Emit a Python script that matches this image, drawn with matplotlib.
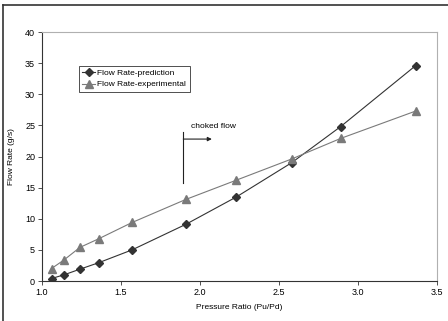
import matplotlib.pyplot as plt
from matplotlib.lines import Line2D

plt.rcParams["font.family"] = ["Liberation Sans", "DejaVu Sans"]

# pressure ratio (Pu/Pd) and flow rate (g/s)
pressure_ratio = [1.06, 1.14, 1.24, 1.36, 1.57, 1.91, 2.23, 2.58, 2.89, 3.365]
flow_prediction = [0.4, 1.0, 1.9, 2.95, 5.0, 9.1, 13.5, 19.0, 24.8, 34.6]
flow_experimental = [2.0, 3.4, 5.4, 6.8, 9.4, 13.1, 16.2, 19.6, 22.9, 27.3]

fig = plt.figure(figsize=(4.48, 3.21), dpi=100)
ax = fig.add_axes([0.0938, 0.1246, 0.8816, 0.7757])

ax.plot(pressure_ratio, flow_prediction, "-D", color="#333333", lw=0.8,
        ms=3.8, label="Flow Rate-prediction")
ax.plot(pressure_ratio, flow_experimental, "-^", color="#7a7a7a", lw=0.8,
        ms=5.5, label="Flow Rate-experimental")

ax.set_xlim(1.0, 3.5)
ax.set_ylim(0, 40)
ax.set_xticks([1.0, 1.5, 2.0, 2.5, 3.0, 3.5])
ax.set_xticklabels(["1.0", "1.5", "2.0", "2.5", "3.0", "3.5"])
ax.set_yticks(range(0, 41, 5))
ax.tick_params(labelsize=6.5, length=3, width=0.6, pad=2, color="#333333")

for side in ["left", "bottom"]:
    ax.spines[side].set_color("#333333")
    ax.spines[side].set_linewidth(0.8)
for side in ["top", "right"]:
    ax.spines[side].set_color("#b0b0b0")
    ax.spines[side].set_linewidth(0.8)

ax.set_xlabel("Pressure Ratio (Pu/Pd)", fontsize=6, labelpad=5)
ax.set_ylabel("Flow Rate (g/s)", fontsize=6, labelpad=7)

leg = ax.legend(loc="upper left", bbox_to_anchor=(0.094, 0.863), fontsize=6,
                frameon=True, fancybox=False, borderaxespad=0, handlelength=1.5,
                handletextpad=0.3, borderpad=0.4, labelspacing=0.4)
leg.get_frame().set_edgecolor("black")
leg.get_frame().set_linewidth(0.6)

# choked flow marker
ax.plot([1.894, 1.894], [15.7, 24.0], color="#222222", lw=0.8)
ax.annotate("", xy=(2.075, 22.8), xytext=(1.894, 22.8),
            arrowprops=dict(arrowstyle="-|>", color="#222222", lw=0.8,
                            mutation_scale=6, shrinkA=0, shrinkB=0))
ax.text(1.94, 24.8, "choked flow", fontsize=6, va="center", ha="left")

# outer frame, top and left edges
fig.add_artist(Line2D([3 / 448, 3 / 448], [0, 1 - 5 / 321], color="#333333", lw=1.2))
fig.add_artist(Line2D([3 / 448, 1], [1 - 5 / 321, 1 - 5 / 321], color="#333333", lw=1.2))

fig.savefig("out.png", dpi=100)
